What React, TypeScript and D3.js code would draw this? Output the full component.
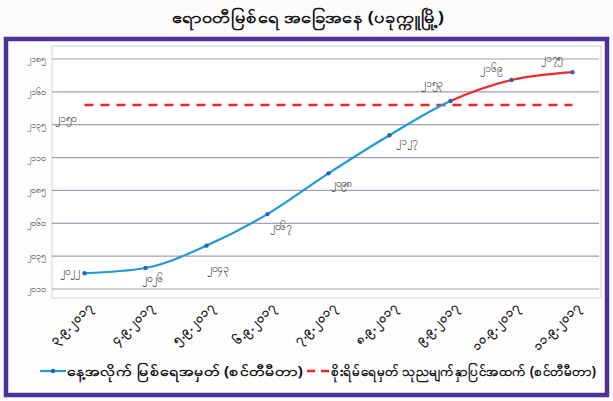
import * as d3 from "d3";

const title = "ဧရာဝတီမြစ်ရေ အခြေအနေ (ပခုက္ကူမြို့)";
const dates = [
  "၃.၉.၂၀၁၇",
  "၄.၉.၂၀၁၇",
  "၅.၉.၂၀၁၇",
  "၆.၉.၂၀၁၇",
  "၇.၉.၂၀၁၇",
  "၈.၉.၂၀၁၇",
  "၉.၉.၂၀၁၇",
  "၁၀.၉.၂၀၁၇",
  "၁၁.၉.၂၀၁၇",
];
const levels = [2022, 2026, 2043, 2067, 2098, 2127, 2153, 2169, 2175];
const dangerLevel = 2150;
const yTicks = [2010, 2035, 2060, 2085, 2110, 2135, 2160, 2185];
const seriesNames = [
  "နေ့အလိုက် မြစ်ရေအမှတ် (စင်တီမီတာ)",
  "စိုးရိမ်ရေမှတ် သုညမျက်နှာပြင်အထက် (စင်တီမီတာ)",
];

// label placement (dx, dy, anchor) per point
const labelPos: [number, number, string][] = [
  [-5, 2, "end"],
  [-4, 14, "start"],
  [0, 26, "start"],
  [2, 16, "start"],
  [2, 14, "start"],
  [6, 10, "start"],
  [-30, -14, "start"],
  [-32, -8, "start"],
  [-32, -10, "start"],
];

const myDigits = "၀၁၂၃၄၅၆၇၈၉";
const toMy = (n: number) =>
  String(n)
    .split("")
    .map((c) => (c >= "0" && c <= "9" ? myDigits[+c] : c))
    .join("");

const W = 613;
const H = 401;
const font = "'Noto Sans', 'DejaVu Sans', sans-serif";

export default function App() {
  const left = 54;
  const right = 603;
  const x = d3
    .scaleBand<string>()
    .domain(dates)
    .range([left, right]);
  const cx = (i: number) => (x(dates[i]) as number) + x.bandwidth() / 2;
  const y = d3.scaleLinear().domain([2010, 2185]).range([289, 59]);

  const line = d3
    .line<number>()
    .x((_, i) => cx(i))
    .y((d) => y(d))
    .curve(d3.curveMonotoneX);
  const path = line(levels) || "";
  const splitX = cx(6);

  return (
    <svg
      width={W}
      height={H}
      style={{ position: "absolute", left: 0, top: 0, background: "#fff" }}
      fontFamily={font}
    >
      <defs>
        <clipPath id="redpart">
          <rect x={splitX} y={0} width={W - splitX} height={H} />
        </clipPath>
        <clipPath id="bluepart">
          <rect x={0} y={0} width={splitX} height={H} />
        </clipPath>
      </defs>
      <rect x={0} y={0} width={W} height={H} fill="#fbfbfb" />
      <text
        x={172}
        y={23}
        fontSize={16}
        fontWeight="bold"
        fill="#111"
        textLength={272}
        lengthAdjust="spacingAndGlyphs"
      >
        {title}
      </text>
      {/* frame */}
      <rect
        x={6}
        y={39}
        width={601}
        height={356}
        fill="#fdfdfd"
        stroke="#4f3196"
        strokeWidth={4.5}
      />
      {/* plot area */}
      <rect
        x={left - 2}
        y={46}
        width={right - left}
        height={252}
        fill="#fff"
        stroke="#d4d4d8"
        strokeWidth={1}
      />
      {yTicks.map((t) => (
        <g key={t}>
          <line
            x1={left - 2}
            x2={right - 4}
            y1={y(t)}
            y2={y(t)}
            stroke="#a99bb4"
            strokeWidth={1.2}
          />
          <text
            x={36}
            y={y(t) + 3}
            textAnchor="middle"
            fontSize={9}
            fill="#333"
          >
            {toMy(t)}
          </text>
        </g>
      ))}
      {/* danger level */}
      <line
        x1={cx(0)}
        x2={cx(dates.length - 1)}
        y1={y(dangerLevel)}
        y2={y(dangerLevel)}
        stroke="#e8282b"
        strokeWidth={2.5}
        strokeDasharray="9,7"
      />
      <text x={55} y={y(dangerLevel) + 17} fontSize={10.5} fill="#222">
        {toMy(dangerLevel)}
      </text>
      {/* water level line */}
      <path
        d={path}
        fill="none"
        stroke="#1f9ad6"
        strokeWidth={2.2}
        clipPath="url(#bluepart)"
      />
      <path
        d={path}
        fill="none"
        stroke="#ec2a2a"
        strokeWidth={2.2}
        clipPath="url(#redpart)"
      />
      {levels.map((v, i) => (
        <g key={i}>
          <circle cx={cx(i)} cy={y(v)} r={2.2} fill="#2f5fb0" />
          <text
            x={cx(i) + labelPos[i][0]}
            y={y(v) + labelPos[i][1]}
            textAnchor={labelPos[i][2]}
            fontSize={10.5}
            fill="#222"
          >
            {toMy(v)}
          </text>
        </g>
      ))}
      {/* x labels */}
      {dates.map((d, i) => (
        <text
          key={d}
          transform={`translate(${cx(i) + 9},${307}) rotate(-45)`}
          textAnchor="end"
          fontSize={12.5}
          fontWeight="bold"
          fill="#111"
        >
          {d}
        </text>
      ))}
      {/* legend */}
      <line x1={40} x2={66} y1={371} y2={371} stroke="#1f9ad6" strokeWidth={2.2} />
      <circle cx={53} cy={371} r={2.2} fill="#2f5fb0" />
      <text
        x={67}
        y={376}
        fontSize={14}
        fontWeight="bold"
        fill="#111"
        textLength={236}
        lengthAdjust="spacingAndGlyphs"
      >
        {seriesNames[0]}
      </text>
      <line
        x1={307}
        x2={329}
        y1={371}
        y2={371}
        stroke="#e8282b"
        strokeWidth={2.5}
        strokeDasharray="8,6"
      />
      <text
        x={331}
        y={376}
        fontSize={14}
        fontWeight="bold"
        fill="#111"
        textLength={265}
        lengthAdjust="spacingAndGlyphs"
      >
        {seriesNames[1]}
      </text>
    </svg>
  );
}
